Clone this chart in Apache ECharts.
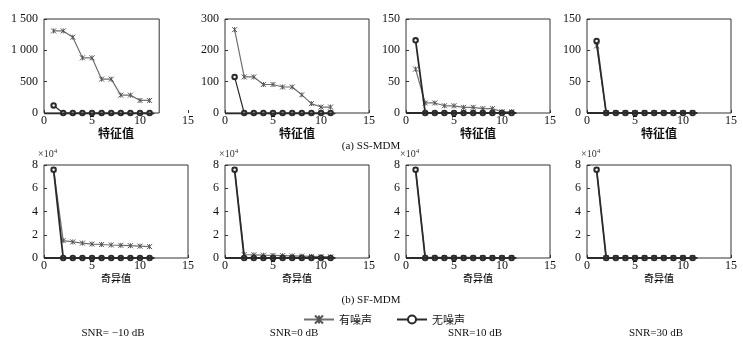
<!DOCTYPE html>
<html>
<head>
<meta charset="utf-8">
<script src="https://cdn.jsdelivr.net/npm/echarts@6.0.0/dist/echarts.min.js"></script>
<style>
  html, body { margin: 0; padding: 0; background: #fff; }
  #main { width: 743px; height: 344px; }
</style>
</head>
<body>
<div id="main"></div>
<script>
  // eigenvalue / singular value index
  const xIdx = [1, 2, 3, 4, 5, 6, 7, 8, 9, 10, 11];
  const snrLabels = ['SNR= \u221210 dB', 'SNR=0 dB', 'SNR=10 dB', 'SNR=30 dB'];

  // (a) SS-MDM, eigenvalues
  const ssNoisyM10 = [1310, 1310, 1210, 880, 880, 540, 540, 285, 285, 200, 200];
  const ssCleanM10 = [120, 0, 0, 0, 0, 0, 0, 0, 0, 0, 0];
  const ssNoisy0 = [266, 115, 115, 91, 91, 83, 83, 58, 30, 19, 19];
  const ssClean0 = [115, 0, 0, 0, 0, 0, 0, 0, 0, 0, 0];
  const ssNoisy10 = [70, 16, 16, 11.5, 11.5, 9, 9, 7, 7, 2, 2];
  const ssClean10 = [116, 0, 0, 0, 0, 0, 0, 0, 0, 0, 0];
  const ssNoisy30 = [107, 0.5, 0.5, 0.5, 0.5, 0.5, 0.5, 0.5, 0.5, 0.5, 0.5];
  const ssClean30 = [115, 0, 0, 0, 0, 0, 0, 0, 0, 0, 0];
  const ssYMax = [1500, 300, 150, 150];
  const ssYStep = [500, 100, 50, 50];

  // (b) SF-MDM, singular values (x10^4)
  const sfNoisyM10 = [7.6, 1.5, 1.38, 1.28, 1.2, 1.16, 1.12, 1.09, 1.06, 1.02, 0.98];
  const sfCleanM10 = [7.6, 0, 0, 0, 0, 0, 0, 0, 0, 0, 0];
  const sfNoisy0 = [7.6, 0.3, 0.27, 0.24, 0.22, 0.2, 0.18, 0.16, 0.14, 0.12, 0.1];
  const sfClean0 = [7.6, 0, 0, 0, 0, 0, 0, 0, 0, 0, 0];
  const sfNoisy10 = [7.6, 0.06, 0.06, 0.05, 0.05, 0.05, 0.05, 0.04, 0.04, 0.04, 0.04];
  const sfClean10 = [7.6, 0, 0, 0, 0, 0, 0, 0, 0, 0, 0];
  const sfNoisy30 = [7.6, 0.02, 0.02, 0.02, 0.02, 0.02, 0.02, 0.02, 0.02, 0.02, 0.02];
  const sfClean30 = [7.6, 0, 0, 0, 0, 0, 0, 0, 0, 0, 0];
  const sfYMax = 8;
  const sfYStep = 2;

  // axes box right end (x value) and the heavy zero line span
  const frameEnd = [12, 15, 15, 15, 15, 15, 15, 15];
  const baseSpan = [0, 11.5];

  const noisyAll = [ssNoisyM10, ssNoisy0, ssNoisy10, ssNoisy30, sfNoisyM10, sfNoisy0, sfNoisy10, sfNoisy30];
  const cleanAll = [ssCleanM10, ssClean0, ssClean10, ssClean30, sfCleanM10, sfClean0, sfClean10, sfClean30];

  const serif = "'Liberation Serif', 'Times New Roman', serif";
  const cjk = "'Noto Sans CJK SC', sans-serif";
  const star = 'path://M0,0L10,10M10,0L0,10M5,0L5,10';

  const colLeft = [44, 225, 406, 587];
  const colW = 144;

  function pts(arr) {
    return arr.map((v, k) => [xIdx[k], v]);
  }
  function thousands(v) {
    return v >= 1000 ? String(v).replace(/\B(?=(\d{3})+$)/g, ' ') : String(v);
  }

  const grids = [], xAxes = [], yAxes = [], series = [];
  for (let i = 0; i < 8; i++) {
    const top = i < 4;
    const c = i % 4;
    grids.push({ left: colLeft[c], width: colW, top: top ? 19 : 165, height: top ? 94 : 93 });
    xAxes.push({
      gridIndex: i, type: 'value', min: 0, max: 15, interval: 5,
      axisLine: { show: false },
      axisTick: { show: true, inside: true, length: 3, lineStyle: { color: '#333' } },
      splitLine: { show: false },
      axisLabel: { fontFamily: serif, fontSize: 12, color: '#111', margin: 2 },
      name: top ? '特征值' : '奇异值',
      nameLocation: 'middle',
      nameGap: top ? 14 : 15,
      nameTextStyle: top
        ? { fontFamily: cjk, fontSize: 12, fontWeight: 'bold', color: '#111' }
        : { fontFamily: cjk, fontSize: 10, fontWeight: 500, color: '#111' }
    });
    yAxes.push({
      gridIndex: i, type: 'value', min: 0,
      max: top ? ssYMax[c] : sfYMax,
      interval: top ? ssYStep[c] : sfYStep,
      axisLine: { show: false },
      axisTick: { show: true, inside: true, length: 3, lineStyle: { color: '#333' } },
      splitLine: { show: false },
      axisLabel: { fontFamily: serif, fontSize: 12, color: '#111', margin: 6, formatter: thousands },
      name: top ? '' : '{a|×10}{b|4}',
      nameLocation: 'end',
      nameGap: 4,
      nameTextStyle: {
        align: 'left', padding: [0, 0, 0, -6],
        rich: {
          a: { fontFamily: serif, fontSize: 10, color: '#333' },
          b: { fontFamily: serif, fontSize: 7, color: '#333', verticalAlign: 'top', padding: [0, 0, 5, 0] }
        }
      }
    });
    series.push({
      name: '有噪声', type: 'line', xAxisIndex: i, yAxisIndex: i,
      data: pts(noisyAll[i]),
      symbol: star, symbolSize: 5,
      lineStyle: { color: '#707070', width: 1.2 },
      itemStyle: { color: '#555', borderColor: '#555', borderWidth: 1 },
      z: 2
    });
    const heavy = !(top && c < 2);
    series.push({
      name: '无噪声', type: 'line', xAxisIndex: i, yAxisIndex: i,
      data: pts(cleanAll[i]),
      symbol: 'emptyCircle', symbolSize: 4.5,
      lineStyle: { color: '#2a2a2a', width: heavy ? 1.8 : 1.2 },
      itemStyle: { color: '#2a2a2a', borderWidth: 1.1 },
      markLine: {
        silent: true, symbol: 'none', label: { show: false },
        lineStyle: { color: '#222', width: heavy ? 2 : 1.4, type: 'solid' },
        data: [[{ coord: [baseSpan[0], 0] }, { coord: [baseSpan[1], 0] }]]
      },
      z: 3
    });
  }

  const chart = echarts.init(document.getElementById('main'));
  chart.setOption({
    animation: false,
    backgroundColor: '#fff',
    grid: grids,
    xAxis: xAxes,
    yAxis: yAxes,
    legend: {
      data: ['有噪声', '无噪声'],
      left: 298, top: 309,
      itemWidth: 30, itemHeight: 10, itemGap: 24,
      textStyle: { fontFamily: cjk, fontSize: 11, color: '#111' }
    },
    series: series
  });

  // frame boxes through the axes' own scales, plus captions
  const graphics = [];
  for (let i = 0; i < 8; i++) {
    const ymax = i < 4 ? ssYMax[i] : sfYMax;
    const p0 = chart.convertToPixel({ gridIndex: i }, [0, ymax]);
    const p1 = chart.convertToPixel({ gridIndex: i }, [frameEnd[i], 0]);
    graphics.push({
      type: 'rect', silent: true, z: 10,
      shape: { x: p0[0], y: p0[1], width: p1[0] - p0[0], height: p1[1] - p0[1] },
      style: { fill: 'none', stroke: '#333', lineWidth: 1 }
    });
  }
  const midX = 371;
  graphics.push({ type: 'text', x: midX, y: 146, style: { text: '(a) SS-MDM', font: '11px ' + serif, fill: '#111', align: 'center', verticalAlign: 'middle' } });
  graphics.push({ type: 'text', x: midX, y: 300, style: { text: '(b) SF-MDM', font: '11px ' + serif, fill: '#111', align: 'center', verticalAlign: 'middle' } });
  for (let c = 0; c < 4; c++) {
    graphics.push({
      type: 'text', x: colLeft[c] + colW / 2 - 3, y: 333,
      style: { text: snrLabels[c], font: '11px ' + serif, fill: '#111', align: 'center', verticalAlign: 'middle' }
    });
  }
  chart.setOption({ graphic: graphics });
</script>
</body>
</html>
